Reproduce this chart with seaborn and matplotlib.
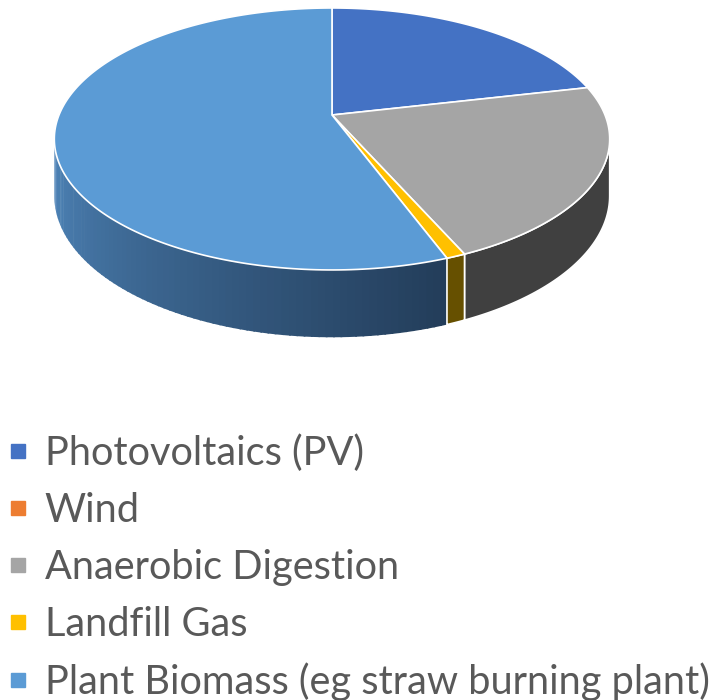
import numpy as np
import matplotlib
matplotlib.use("Agg")
import matplotlib.pyplot as plt
from matplotlib.patches import Polygon
from matplotlib.lines import Line2D
from matplotlib.colors import to_rgb
import seaborn as sns

# data (share of capacity, %)
categories = ["Photovoltaics (PV)", "Wind", "Anaerobic Digestion",
              "Landfill Gas", "Plant Biomass (eg straw burning plant)"]
shares = [21.4, 0.0, 22.0, 0.95, 55.7]

top_colors = sns.color_palette(["#4472C4", "#ED7D31", "#A5A5A5", "#FFC000", "#5B9BD5"])
side_colors = ["#2c4a80", "#9a5120", "#404040", "#665000", "#4f86bb"]
biomass_side_dark = "#233d5a"

sns.set_theme(style="white")
plt.rcParams["font.family"] = ["Lato", "DejaVu Sans"]

fig = plt.figure(figsize=(7.26, 7.0), dpi=100)
ax = fig.add_axes([0, 0, 1, 1])
ax.set_xlim(0, 726)
ax.set_ylim(700, 0)
ax.axis("off")

# simple perspective projection of a flat disc
cx, cy, a, b, p, depth = 332, 115, 273, 126.6, 0.183, 55


def proj(t, drop=0.0):
    u, v = np.cos(t), np.sin(t)
    s = 1 + p * v
    return cx + a * u / s, cy - b * v / s + drop / s


vals = np.array(shares)
bounds = 90 - 360 * np.concatenate([[0], np.cumsum(vals) / vals.sum()])
sil_lo, sil_hi = -180 + np.degrees(np.arcsin(p)), -np.degrees(np.arcsin(p))

# ---------- sides ----------
for i, cat in enumerate(categories):
    t0, t1 = bounds[i], bounds[i + 1]
    lo, hi = max(t1, sil_lo), min(t0, sil_hi)
    if lo >= hi:
        continue
    if i == len(categories) - 1:
        # gradient strips for the big slice
        edges = np.linspace(lo, hi, 80)
        c0, c1 = np.array(to_rgb(side_colors[i])), np.array(to_rgb(biomass_side_dark))
        for k in range(len(edges) - 1):
            tt = np.radians(np.linspace(edges[k], edges[k + 1] + 0.3, 4))
            xt, yt = proj(tt)
            xb, yb = proj(tt[::-1], depth)
            frac = k / (len(edges) - 2)
            col = c0 + (c1 - c0) * frac
            ax.add_patch(Polygon(np.column_stack([np.r_[xt, xb], np.r_[yt, yb]]),
                                 closed=True, fc=col, ec="none", zorder=1))
    else:
        tt = np.radians(np.linspace(hi, lo, 60))
        xt, yt = proj(tt)
        xb, yb = proj(tt[::-1], depth)
        ax.add_patch(Polygon(np.column_stack([np.r_[xt, xb], np.r_[yt, yb]]),
                             closed=True, fc=side_colors[i], ec="white", lw=1.2, zorder=1.5))

# ---------- tops ----------
for i, cat in enumerate(categories):
    t0, t1 = bounds[i], bounds[i + 1]
    if t0 - t1 <= 0:
        continue
    tt = np.radians(np.linspace(t0, t1, 200))
    xt, yt = proj(tt)
    ax.add_patch(Polygon(np.column_stack([np.r_[cx, xt], np.r_[cy, yt]]),
                         closed=True, fc=top_colors[i], ec="white", lw=1.2, zorder=2))

# ---------- legend ----------
handles = [Line2D([], [], marker="s", ls="", color=c, markersize=10) for c in top_colors]
fig.legend(handles, categories, loc="upper left", bbox_to_anchor=(0.0, 1 - 426.5 / 700),
           frameon=False, fontsize=28.6, labelcolor="#595959", handletextpad=0.43,
           labelspacing=0.5, borderaxespad=0, borderpad=0.2, handlelength=0.5)

fig.savefig("out.png", dpi=100)
